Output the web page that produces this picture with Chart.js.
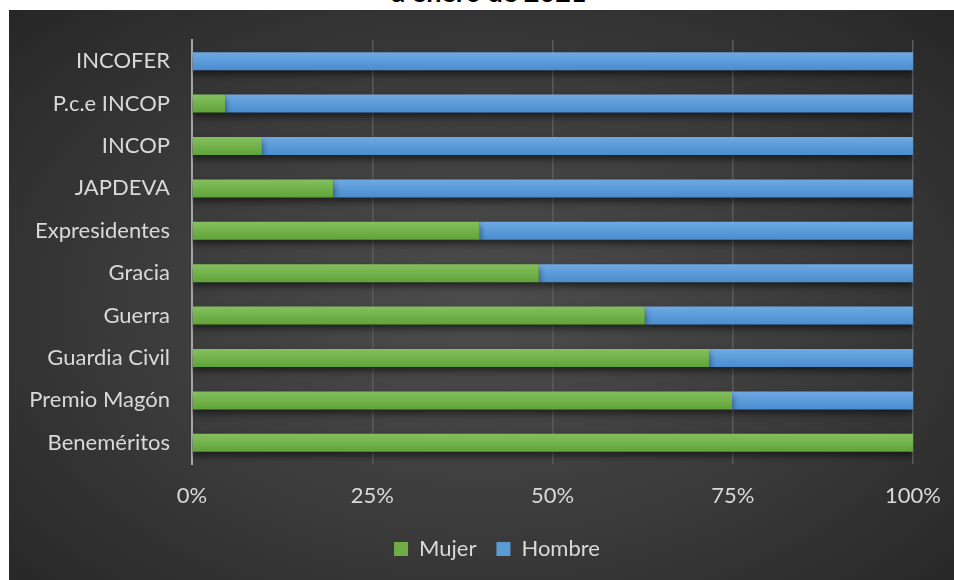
<!DOCTYPE html>
<html>
<head>
<meta charset="utf-8">
<script src="https://cdn.jsdelivr.net/npm/chart.js@4.4.1/dist/chart.umd.min.js"></script>
<style>
  html, body { margin: 0; padding: 0; background: #fff; }
  body { width: 954px; height: 580px; position: relative; overflow: hidden; }
  #titulo {
    position: absolute; left: 0; top: 0; width: 954px; height: 10px; overflow: hidden;
  }
  #titulo span {
    position: absolute; left: 0; width: 978px; text-align: center; top: -25px;
    font: bold 27px Lato, sans-serif; color: #000; white-space: nowrap;
  }
  #panel {
    position: absolute; left: 9px; top: 10px; width: 945px; height: 570px;
    background: radial-gradient(ellipse 70% 75% at 50% 52%, #4d4d4d 0%, #3a3a3a 55%, #262626 100%);
  }
  canvas { display: block; }
</style>
</head>
<body>
<div id="titulo"><span>a enero de 2021</span></div>
<div id="panel"><canvas id="grafico" width="945" height="570"></canvas></div>
<script>
// Categorías (de arriba a abajo)
const categorias = ['INCOFER', 'P.c.e INCOP', 'INCOP', 'JAPDEVA', 'Expresidentes', 'Gracia', 'Guerra', 'Guardia Civil', 'Premio Magón', 'Beneméritos']
// Porcentajes
const mujer = [0, 4.6, 9.7, 19.6, 39.9, 48.1, 62.8, 71.7, 74.9, 100]
const hombre = [100, 95.4, 90.3, 80.4, 60.1, 51.9, 37.2, 28.3, 25.1, 0]
const ticksX = [0, 25, 50, 75, 100]

const FUENTE = 'Lato, sans-serif'
const TEXTO = '#d9d9d9'

// Helper : degradado vertical por barra
function degradado(arriba, abajo) {
  return ctx => {
    const chart = ctx.chart
    const y = chart.scales.y
    if (!y || ctx.dataIndex === undefined) return arriba
    const c = y.getPixelForValue(ctx.dataIndex)
    const g = chart.ctx.createLinearGradient(0, c - 9, 0, c + 9)
    g.addColorStop(0, arriba)
    g.addColorStop(1, abajo)
    return g
  }
}

// Sombra bajo las barras
const sombra = {
  id: 'sombra',
  beforeDatasetsDraw(chart) {
    const c = chart.ctx
    c.save()
    c.shadowColor = 'rgba(0,0,0,0.55)'
    c.shadowBlur = 7
    c.shadowOffsetY = 4
  },
  afterDatasetsDraw(chart) {
    chart.ctx.restore()
  },
}

// Leyenda centrada bajo el área del gráfico
const leyendaCentro = {
  id: 'leyendaCentro',
  afterLayout(chart) {
    if (chart.legend) chart.legend.left = 72
  },
}

new Chart(document.getElementById('grafico'), {
  type: 'bar',
  data: {
    labels: categorias,
    datasets: [
      { label: 'Mujer', data: mujer, backgroundColor: degradado('#84c05e', '#60a338'), borderWidth: 0 },
      { label: 'Hombre', data: hombre, backgroundColor: degradado('#6ea9e2', '#4a8dd0'), borderWidth: 0 },
    ],
  },
  options: {
    indexAxis: 'y',
    animation: false,
    responsive: false,
    categoryPercentage: 0.85,
    barPercentage: 0.5,
    layout: { padding: { left: 0, right: 41, top: 30, bottom: 10 } },
    scales: {
      x: {
        stacked: true, min: 0, max: 100,
        afterBuildTicks: s => { s.ticks = ticksX.map(v => ({ value: v })) },
        afterFit: s => { s.height = 54; s.paddingLeft = 0; s.paddingRight = 0 },
        ticks: { color: TEXTO, font: { family: FUENTE, size: 22 }, padding: 19, callback: v => v + '%' },
        grid: { color: '#5a5a5a', lineWidth: 1.5, drawTicks: false },
        border: { display: false },
      },
      y: {
        stacked: true,
        afterFit: s => { s.width = 183; s.paddingTop = 0; s.paddingBottom = 0 },
        ticks: { color: TEXTO, font: { family: FUENTE, size: 22 }, padding: 22 },
        grid: { display: false, drawTicks: false },
        border: { display: true, color: '#a6a6a6', width: 2 },
      },
    },
    plugins: {
      legend: {
        position: 'bottom',
        labels: {
          color: TEXTO, font: { family: FUENTE, size: 22 }, boxWidth: 14, boxHeight: 14, padding: 20,
          generateLabels: chart => [
            { text: 'Mujer', fillStyle: '#70ad47', strokeStyle: '#70ad47', lineWidth: 0, fontColor: TEXTO, datasetIndex: 0 },
            { text: 'Hombre', fillStyle: '#5b9bd5', strokeStyle: '#5b9bd5', lineWidth: 0, fontColor: TEXTO, datasetIndex: 1 },
          ],
        },
      },
      tooltip: { enabled: false },
    },
  },
  plugins: [sombra, leyendaCentro],
})
</script>
</body>
</html>
